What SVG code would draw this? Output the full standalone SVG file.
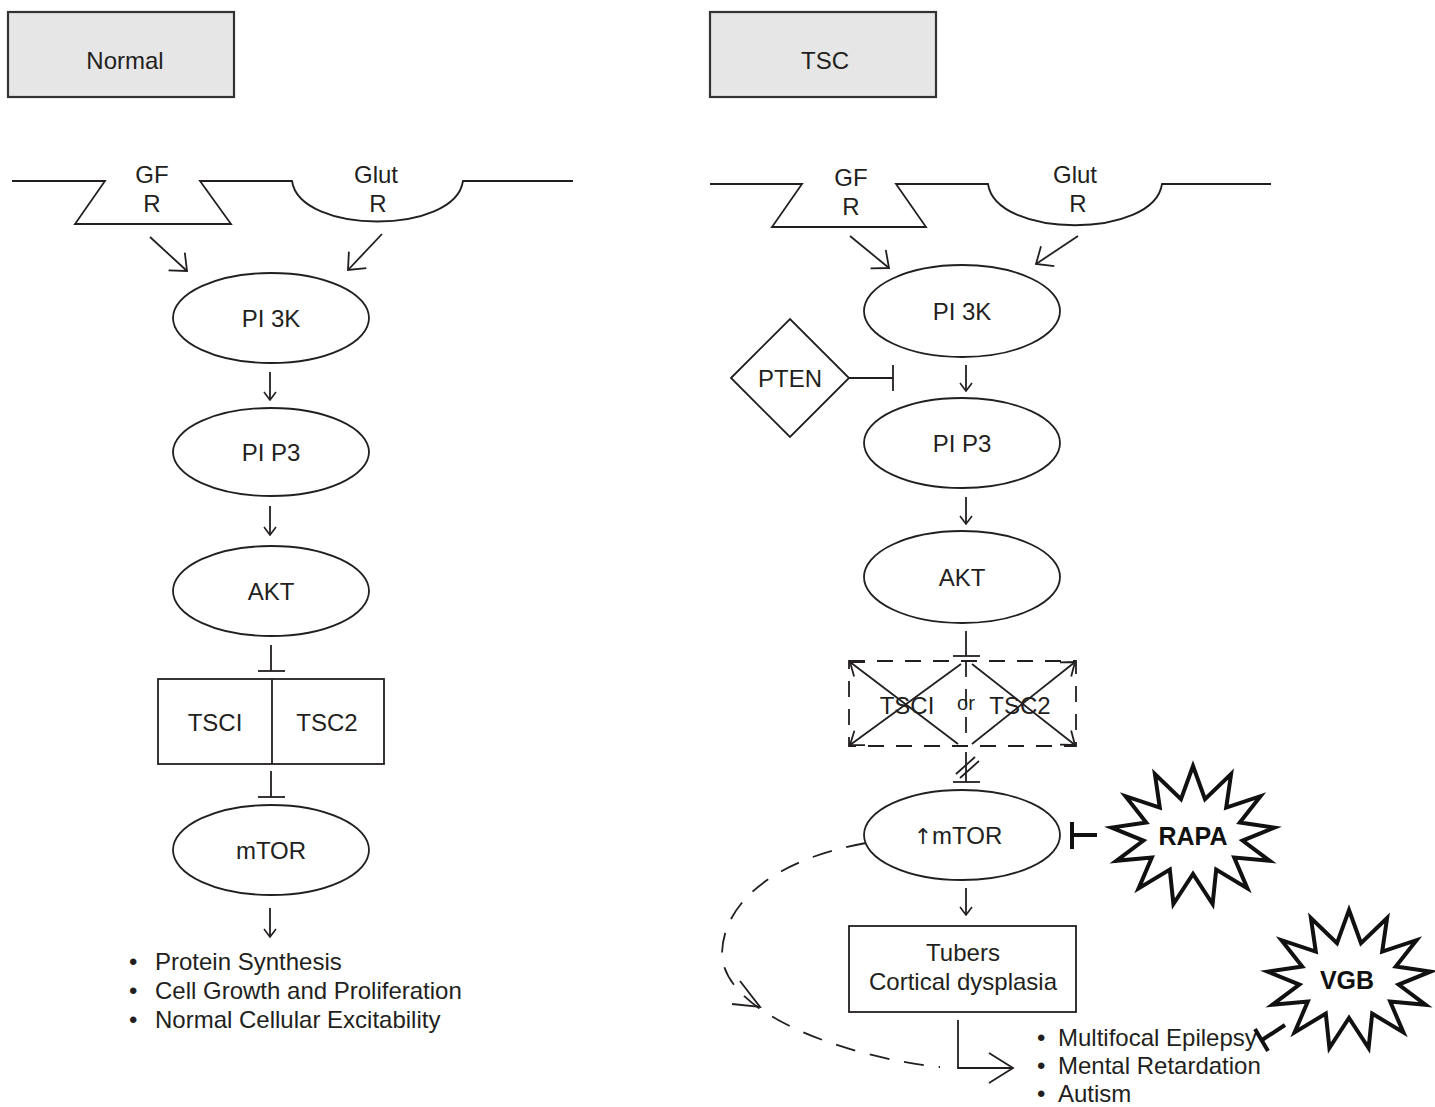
<svg xmlns="http://www.w3.org/2000/svg" width="1435" height="1107" viewBox="0 0 1435 1107">
<style>
  .ln{fill:none;stroke:#231f20;stroke-width:1.8}
  .nd{fill:#fff;stroke:#231f20;stroke-width:1.8}
  .hd{fill:#e6e6e6;stroke:#333;stroke-width:2.2}
  .t{font-family:"Liberation Sans",Arial,sans-serif;font-size:24px;fill:#231f20;text-anchor:middle}
  .tl{font-family:"Liberation Sans",Arial,sans-serif;font-size:24px;fill:#231f20}
  .b{font-family:"Liberation Sans",Arial,sans-serif;font-size:25px;font-weight:bold;fill:#111;text-anchor:middle}
  .dsh{fill:none;stroke:#231f20;stroke-width:1.8;stroke-dasharray:16 12}
  .star{fill:#fff;stroke:#111;stroke-width:4;stroke-linejoin:miter}
  .thk{fill:none;stroke:#111;stroke-width:4}
</style>
<defs>
  <marker id="a" viewBox="0 0 10 14" refX="9" refY="7" markerWidth="10" markerHeight="14" markerUnits="userSpaceOnUse" orient="auto">
    <path d="M1,1 L9,7 L1,13" fill="none" stroke="#231f20" stroke-width="1.6"/>
  </marker>
  <marker id="A" viewBox="0 0 16 26" refX="15" refY="13" markerWidth="16" markerHeight="26" markerUnits="userSpaceOnUse" orient="auto">
    <path d="M1,1 L15,13 L1,25" fill="none" stroke="#231f20" stroke-width="1.8"/>
  </marker>
  <marker id="c" viewBox="0 0 14 20" refX="13" refY="10" markerWidth="14" markerHeight="20" markerUnits="userSpaceOnUse" orient="auto">
    <path d="M1,1 L13,10 L1,19" fill="none" stroke="#231f20" stroke-width="1.8"/>
  </marker>
  <polygon id="starShape" points="0,-70 12,-36.9 38.1,-62 33.2,-28.4 67.5,-39.8 46.8,-13.5 81.4,-8.4 49.6,4.6 76.7,24.8 41.2,21.6 54.4,52.4 23.2,33.6 19.6,68 0,38 -19.6,68 -23.2,33.6 -54.4,52.4 -41.2,21.6 -76.7,24.8 -49.6,4.6 -81.4,-8.4 -46.8,-13.5 -67.5,-39.8 -33.2,-28.4 -38.1,-62 -12,-36.9"/>
</defs>

<!-- ============ LEFT PANEL (Normal) ============ -->
<g id="hdr-normal"><rect class="hd" x="8" y="12" width="226" height="85"/><text class="t" x="125" y="69">Normal</text></g>

<g id="membrane-left">
  <path class="ln" d="M12,181 L105,181 L75,224 L231,224 L200,181 L292,181 C300,235 455,235 463,181 L573,181"/>
  <text class="t" x="152" y="183">GF</text><text class="t" x="152" y="212">R</text>
  <text class="t" x="376" y="183">Glut</text><text class="t" x="378" y="212">R</text>
</g>

<g id="L-pi3k"><ellipse class="nd" cx="271" cy="318" rx="98" ry="45"/><text class="t" x="271" y="327">PI 3K</text></g>
<g id="L-pip3"><ellipse class="nd" cx="271" cy="452" rx="98" ry="44"/><text class="t" x="271" y="461">PI P3</text></g>
<g id="L-akt"><ellipse class="nd" cx="271" cy="591" rx="98" ry="45"/><text class="t" x="271" y="600">AKT</text></g>
<g id="L-tsc">
  <rect class="nd" x="158" y="679" width="226" height="85"/>
  <line class="ln" x1="272" y1="679" x2="272" y2="764"/>
  <text class="t" x="215" y="731">TSCI</text><text class="t" x="327" y="731">TSC2</text>
</g>
<g id="L-mtor"><ellipse class="nd" cx="271" cy="850" rx="98" ry="45"/><text class="t" x="271" y="859">mTOR</text></g>
<g id="L-out">
  <text class="tl" x="129" y="970">•</text><text class="tl" x="155" y="970">Protein Synthesis</text>
  <text class="tl" x="129" y="999">•</text><text class="tl" x="155" y="999">Cell Growth and Proliferation</text>
  <text class="tl" x="129" y="1028">•</text><text class="tl" x="155" y="1028">Normal Cellular Excitability</text>
</g>

<!-- ============ RIGHT PANEL (TSC) ============ -->
<g id="hdr-tsc"><rect class="hd" x="710" y="12" width="226" height="85"/><text class="t" x="825" y="69">TSC</text></g>

<g id="membrane-right">
  <path class="ln" d="M710,184 L802,184 L772,227 L926,227 L896,184 L988,184 C996,239 1154,239 1162,184 L1271,184"/>
  <text class="t" x="851" y="186">GF</text><text class="t" x="851" y="215">R</text>
  <text class="t" x="1075" y="183">Glut</text><text class="t" x="1078" y="212">R</text>
</g>

<g id="R-pi3k"><ellipse class="nd" cx="962" cy="311" rx="98" ry="46"/><text class="t" x="962" y="320">PI 3K</text></g>
<g id="R-pten"><polygon class="nd" points="731,378 790,319 849,378 790,437"/><text class="t" x="790" y="387">PTEN</text></g>
<g id="R-pip3"><ellipse class="nd" cx="962" cy="443" rx="98" ry="45"/><text class="t" x="962" y="452">PI P3</text></g>
<g id="R-akt"><ellipse class="nd" cx="962" cy="577" rx="98" ry="46"/><text class="t" x="962" y="586">AKT</text></g>
<g id="R-tsc">
  <rect class="dsh" x="849" y="661" width="227" height="85"/>
  <line class="dsh" x1="966" y1="661" x2="966" y2="746"/>
  <text class="t" x="907" y="714">TSCI</text>
  <text class="t" x="966" y="710" style="font-size:20px">or</text>
  <text class="t" x="1020" y="714">TSC2</text>
  <line class="ln" x1="958" y1="744" x2="850" y2="662" marker-end="url(#c)"/>
  <line class="ln" x1="961" y1="664" x2="850" y2="745" marker-end="url(#c)"/>
  <line class="ln" x1="972" y1="664" x2="1075" y2="745" marker-end="url(#c)"/>
  <line class="ln" x1="972" y1="744" x2="1075" y2="662" marker-end="url(#c)"/>
</g>
<g id="R-mtor"><ellipse class="nd" cx="962" cy="835" rx="98" ry="45"/><text class="t" x="958" y="844"><tspan style="font-family:'DejaVu Sans',sans-serif;font-size:22px;fill:#231f20">↑</tspan>mTOR</text></g>
<g id="R-rapa"><use href="#starShape" class="star" transform="translate(1193,836)"/><text class="b" x="1193" y="845">RAPA</text></g>
<g id="R-tubers">
  <rect class="nd" x="849" y="926" width="227" height="86"/>
  <text class="t" x="963" y="961">Tubers</text><text class="t" x="963" y="990">Cortical dysplasia</text>
</g>
<g id="R-vgb"><use href="#starShape" class="star" transform="translate(1349,980)"/><text class="b" x="1347" y="989">VGB</text></g>
<g id="R-out">
  <text class="tl" x="1037" y="1046">•</text><text class="tl" x="1058" y="1046">Multifocal Epilepsy</text>
  <text class="tl" x="1037" y="1074">•</text><text class="tl" x="1058" y="1074">Mental Retardation</text>
  <text class="tl" x="1037" y="1102">•</text><text class="tl" x="1058" y="1102">Autism</text>
</g>

<!-- ============ CONNECTORS ============ -->
<g id="connectors">
  <!-- left -->
  <line class="ln" x1="150" y1="237" x2="187" y2="271" marker-end="url(#A)"/>
  <line class="ln" x1="382" y1="234" x2="348" y2="270" marker-end="url(#A)"/>
  <line class="ln" x1="270" y1="372" x2="270" y2="400" marker-end="url(#a)"/>
  <line class="ln" x1="270" y1="506" x2="270" y2="535" marker-end="url(#a)"/>
  <line class="ln" x1="271" y1="645" x2="271" y2="671"/><line class="ln" x1="258" y1="671" x2="285" y2="671"/>
  <line class="ln" x1="271" y1="771" x2="271" y2="797"/><line class="ln" x1="258" y1="797" x2="285" y2="797"/>
  <line class="ln" x1="270" y1="908" x2="270" y2="937" marker-end="url(#a)"/>
  <!-- right -->
  <line class="ln" x1="850" y1="236" x2="889" y2="268" marker-end="url(#A)"/>
  <line class="ln" x1="1078" y1="236" x2="1036" y2="264" marker-end="url(#A)"/>
  <line class="ln" x1="966" y1="365" x2="966" y2="391" marker-end="url(#a)"/>
  <line class="ln" x1="849" y1="378" x2="893" y2="378"/><line class="ln" x1="893" y1="365" x2="893" y2="391"/>
  <line class="ln" x1="966" y1="497" x2="966" y2="524" marker-end="url(#a)"/>
  <line class="ln" x1="966" y1="631" x2="966" y2="656"/><line class="ln" x1="953" y1="656" x2="980" y2="656"/>
  <line class="ln" x1="966" y1="752" x2="966" y2="782"/><line class="ln" x1="953" y1="782" x2="980" y2="782"/>
  <line class="ln" x1="956" y1="774" x2="975" y2="757"/><line class="ln" x1="960" y1="778" x2="979" y2="761"/>
  <line class="ln" x1="966" y1="888" x2="966" y2="915" marker-end="url(#a)"/>
  <line class="thk" x1="1072" y1="822" x2="1072" y2="849"/><line class="thk" x1="1072" y1="835" x2="1097" y2="835"/>
  <line class="thk" x1="1262" y1="1040" x2="1285" y2="1025"/><line class="thk" x1="1255" y1="1029" x2="1268" y2="1051"/>
  <path class="ln" d="M958,1020 L958,1068 L1013,1068"/>
  <path class="ln" d="M989,1053 L1013,1068 L989,1083"/>
  <path class="ln" d="M866,843 C780,858 722,900 722,955 C725,1015 850,1058 940,1067" stroke-dasharray="20 15"/>
  <path class="ln" d="M740,981 L760,1007 L732,1004"/>
</g>
</svg>
